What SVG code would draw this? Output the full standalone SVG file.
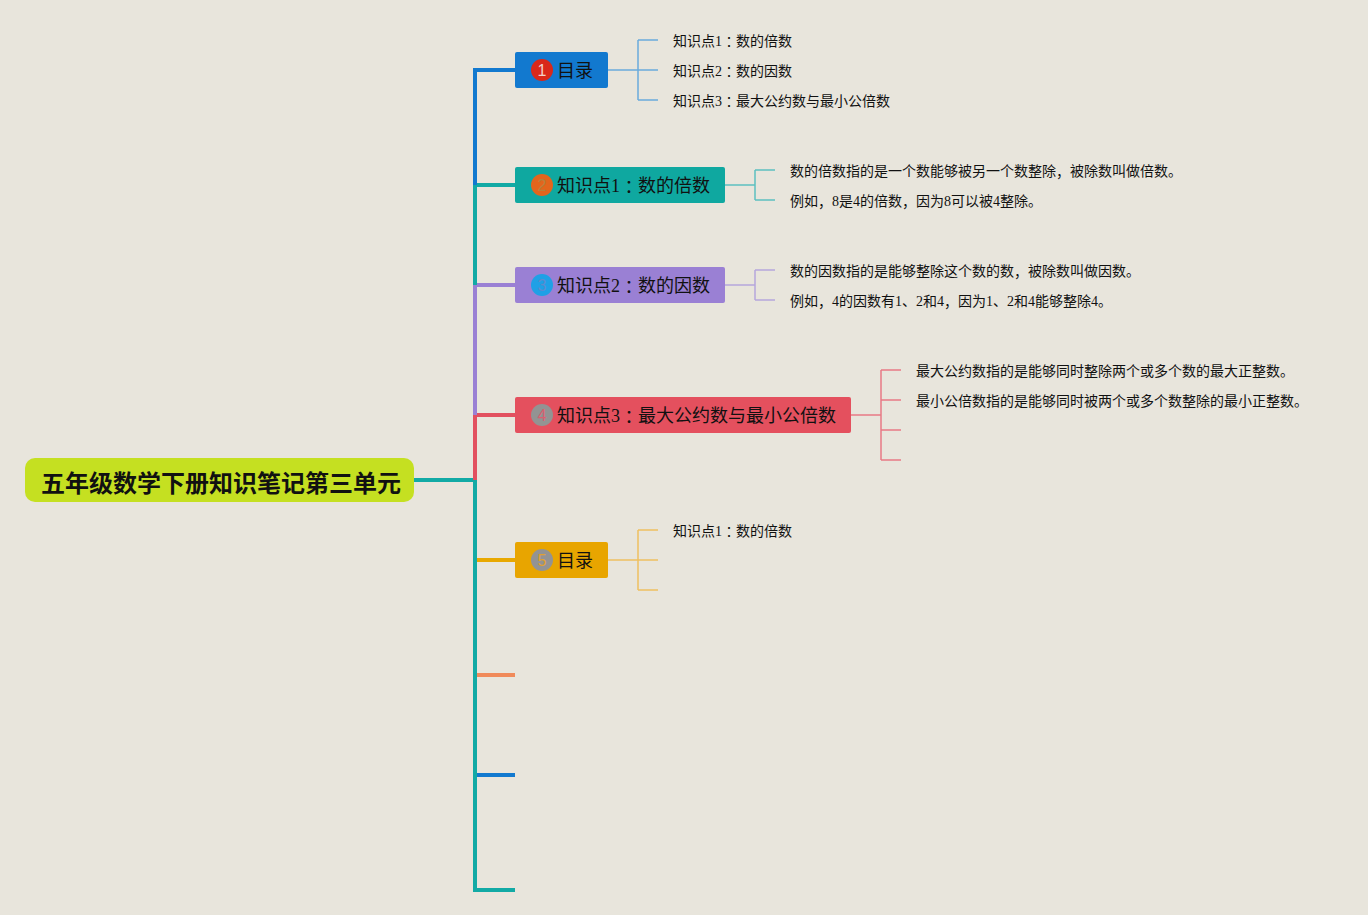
<svg xmlns="http://www.w3.org/2000/svg" width="1368" height="915" viewBox="0 0 1368 915">
<style>
text{font-family:"Liberation Serif","Noto Sans CJK SC",sans-serif;fill:#111;dominant-baseline:central}
.root{font-family:"Noto Sans CJK SC",sans-serif;font-size:24px;font-weight:bold}
.nt{font-size:18px}
.lt{font-size:14px}
.c{font-family:"Noto Sans CJK SC",sans-serif}
.k{font-family:"Noto Sans CJK TC",sans-serif}
.num{font-family:"Liberation Sans","Noto Sans CJK SC",sans-serif;font-size:16px;text-anchor:middle}
.trunk{fill:none;stroke-width:4}
.sub{fill:none;stroke-width:1.5}
</style>
<rect width="1368" height="915" fill="#e8e5dc"/>
<g id="connectors">
  <path class="trunk" d="M414 480 H475 V890 H515" stroke="#12aaa5"/>
  <path class="trunk" d="M475 480 V415 H515" stroke="#e2505f"/>
  <path class="trunk" d="M475 415 V285 H515" stroke="#9a80d4"/>
  <path class="trunk" d="M475 285 V185 H515" stroke="#12aaa5"/>
  <path class="trunk" d="M475 185 V70 H515" stroke="#1279cf"/>
  <path class="trunk" d="M477 675 H515" stroke="#f08a5a"/>
  <path class="trunk" d="M477 775 H515" stroke="#1279cf"/>
  <path class="trunk" d="M477 560 H515" stroke="#e8a800"/>
  <g stroke="#6aaadc" class="sub"><path d="M608 70 H658 M638 40 V100 M638 40 H658 M638 100 H658"/></g>
  <g stroke="#5cc0c0" class="sub"><path d="M725 185 H755 M755 170 V200 M755 170 H775 M755 200 H775"/></g>
  <g stroke="#b5a6dc" class="sub"><path d="M725 285 H755 M755 270 V300 M755 270 H775 M755 300 H775"/></g>
  <g stroke="#e77a85" class="sub"><path d="M851 415 H881 M881 370 V460 M881 370 H901 M881 400 H901 M881 430 H901 M881 460 H901"/></g>
  <g stroke="#eec060" class="sub"><path d="M608 560 H658 M638 530 V590 M638 530 H658 M638 590 H658"/></g>
</g>
<g id="root">
  <rect x="25" y="458" width="389" height="44" rx="10" fill="#c5e021"/>
  <text class="root" x="41" y="481">五年级数学下册知识笔记第三单元</text>
</g>
<g id="node1">
  <rect x="515" y="52" width="93" height="36" rx="2" fill="#1279cf"/>
  <circle cx="542" cy="70" r="11" fill="#d9281a"/>
  <text class="num" x="542" y="70" style="fill:#f3d0c8">1</text>
  <text class="nt" x="557" y="71">目录</text>
</g>
<g id="node2">
  <rect x="515" y="167" width="210" height="36" rx="2" fill="#0fa8a0"/>
  <circle cx="542" cy="185" r="11" fill="#e3651c"/>
  <text class="num" x="542" y="185" style="fill:#b8803a">2</text>
  <text class="nt" x="557" y="186">知识点1<tspan class="k">：</tspan>数的倍数</text>
</g>
<g id="node3">
  <rect x="515" y="267" width="210" height="36" rx="2" fill="#9a80d4"/>
  <circle cx="542" cy="285" r="11" fill="#1fa0e6"/>
  <text class="num" x="542" y="285" style="fill:#5a8cd0">3</text>
  <text class="nt" x="557" y="286">知识点2<tspan class="k">：</tspan>数的因数</text>
</g>
<g id="node4">
  <rect x="515" y="397" width="336" height="36" rx="2" fill="#e4505e"/>
  <circle cx="542" cy="415" r="11" fill="#939393"/>
  <text class="num" x="542" y="415" style="fill:#d86070">4</text>
  <text class="nt" x="557" y="416">知识点3<tspan class="k">：</tspan>最大公约数与最小公倍数</text>
</g>
<g id="node5">
  <rect x="515" y="542" width="93" height="36" rx="2" fill="#e8a500"/>
  <circle cx="542" cy="560" r="11" fill="#939393"/>
  <text class="num" x="542" y="560" style="fill:#e0a030">5</text>
  <text class="nt" x="557" y="561">目录</text>
</g>
<g id="leaves1">
  <text class="lt" x="673" y="41">知识点1<tspan class="k">：</tspan>数的倍数</text>
  <text class="lt" x="673" y="71">知识点2<tspan class="k">：</tspan>数的因数</text>
  <text class="lt" x="673" y="101">知识点3<tspan class="k">：</tspan>最大公约数与最小公倍数</text>
</g>
<g id="leaves2">
  <text class="lt" x="790" y="171">数的倍数指的是一个数能够被另一个数整除<tspan class="c">，</tspan>被除数叫做倍数。</text>
  <text class="lt" x="790" y="201">例如<tspan class="c">，</tspan>8是4的倍数<tspan class="c">，</tspan>因为8可以被4整除。</text>
</g>
<g id="leaves3">
  <text class="lt" x="790" y="271">数的因数指的是能够整除这个数的数<tspan class="c">，</tspan>被除数叫做因数。</text>
  <text class="lt" x="790" y="301">例如<tspan class="c">，</tspan>4的因数有1、2和4<tspan class="c">，</tspan>因为1、2和4能够整除4。</text>
</g>
<g id="leaves4">
  <text class="lt" x="916" y="371">最大公约数指的是能够同时整除两个或多个数的最大正整数。</text>
  <text class="lt" x="916" y="401">最小公倍数指的是能够同时被两个或多个数整除的最小正整数。</text>
</g>
<g id="leaves5">
  <text class="lt" x="673" y="531">知识点1<tspan class="k">：</tspan>数的倍数</text>
</g>
</svg>
